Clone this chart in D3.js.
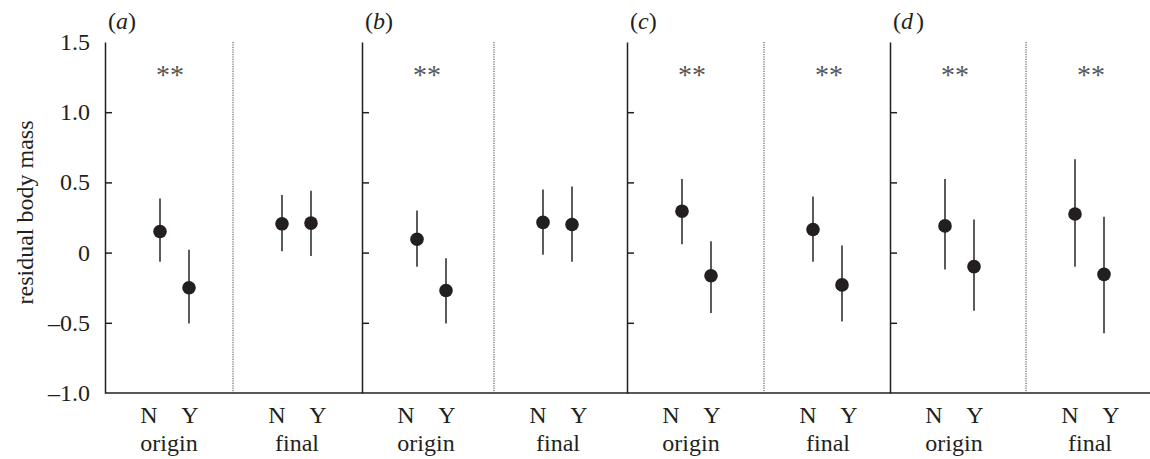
<!DOCTYPE html>
<html>
<head>
<meta charset="utf-8">
<script src="https://cdn.jsdelivr.net/npm/d3@7"></script>
<style>
  body { margin: 0; background: #fff; }
  svg text { font-family: "Liberation Serif", "Times New Roman", serif; fill: #231f20; }
</style>
</head>
<body>
<div id="chart"></div>
<script>
// chart data: each panel has 4 points, order = origin N, origin Y, final N, final Y
const panels = ['a', 'b', 'c', 'd'];
const groups = ['origin', 'final'];
const categories = ['N', 'Y'];

const meanA = [0.15, -0.25, 0.205, 0.21];
const lowA = [-0.065, -0.505, 0.01, -0.025];
const highA = [0.385, 0.02, 0.41, 0.44];

const meanB = [0.095, -0.27, 0.215, 0.2];
const lowB = [-0.1, -0.505, -0.015, -0.065];
const highB = [0.3, -0.04, 0.45, 0.47];

const meanC = [0.295, -0.165, 0.165, -0.23];
const lowC = [0.06, -0.43, -0.065, -0.49];
const highC = [0.525, 0.08, 0.4, 0.05];

const meanD = [0.19, -0.1, 0.275, -0.155];
const lowD = [-0.12, -0.415, -0.1, -0.575];
const highD = [0.525, 0.235, 0.665, 0.255];

// significance marks per panel: [origin, final]
const stars = [['**', ''], ['**', ''], ['**', '**'], ['**', '**']];

const yTicks = [1.5, 1.0, 0.5, 0, -0.5, -1.0];

const means = [meanA, meanB, meanC, meanD];
const lows = [lowA, lowB, lowC, lowD];
const highs = [highA, highB, highC, highD];

const width = 1150, height = 459;
const plotTop = 42, plotBottom = 393;
const fs = 24;

const svg = d3.select('#chart').append('svg')
  .attr('width', width)
  .attr('height', height);

const y = d3.scaleLinear().domain([-1, 1.5]).range([plotBottom, plotTop]);

// panel left edges and the dotted divider between origin/final
const panelX = d3.scaleOrdinal(panels, [105, 362, 627, 890]);
const dividerX = d3.scaleOrdinal(panels, [233, 494, 764, 1026]);
const halfStart = (p, g) => g === 'origin' ? panelX(p) : dividerX(p);

// point positions inside each half, label positions a bit wider
const pointX = {
  origin: d3.scalePoint(categories, [55, 84]),
  final: d3.scalePoint(categories, [49, 78])
};
const labelX = d3.scalePoint(categories, [44, 85]);

const fmt = d => d === 0 ? '0' : d3.format('.1f')(d).replace('-', '\u2013').replace('\u2212', '\u2013');

// y tick labels on the far left
svg.append('g')
  .selectAll('text')
  .data(yTicks)
  .join('text')
  .attr('x', 90)
  .attr('y', d => y(d))
  .attr('dy', '0.33em')
  .attr('text-anchor', 'end')
  .attr('font-size', fs)
  .text(fmt);

svg.append('text')
  .attr('transform', `translate(33,${(plotTop + plotBottom) / 2 - 5}) rotate(-90)`)
  .attr('text-anchor', 'middle')
  .attr('font-size', fs)
  .text('residual body mass');

// bottom axis line
svg.append('line')
  .attr('x1', panelX('a')).attr('x2', width)
  .attr('y1', plotBottom).attr('y2', plotBottom)
  .attr('stroke', '#231f20').attr('stroke-width', 1.6);

panels.forEach((p, i) => {
  const g = svg.append('g');

  // panel axis with inward ticks
  g.append('g')
    .attr('transform', `translate(${panelX(p)},0)`)
    .call(d3.axisRight(y).tickValues([1, 0.5, 0, -0.5]).tickSize(7).tickSizeOuter(0).tickFormat(''))
    .call(a => a.selectAll('path, line').attr('stroke', '#231f20').attr('stroke-width', 1.5));

  g.append('line')
    .attr('x1', dividerX(p)).attr('x2', dividerX(p))
    .attr('y1', plotTop).attr('y2', plotBottom)
    .attr('stroke', '#444').attr('stroke-width', 1)
    .attr('stroke-dasharray', '1.2,1.2');

  const lab = g.append('text')
    .attr('x', panelX(p) + 3)
    .attr('y', 29)
    .attr('font-size', fs);
  lab.append('tspan').text('(');
  lab.append('tspan').attr('font-style', 'italic').text(p);
  lab.append('tspan').attr('dx', p === 'd' ? 3 : 0).text(')');

  groups.forEach((grp, gi) => {
    const x0 = halfStart(p, grp);

    g.append('text')
      .attr('x', x0 + 64)
      .attr('y', 451)
      .attr('text-anchor', 'middle')
      .attr('font-size', fs)
      .text(grp);

    g.selectAll(null)
      .data(categories)
      .join('text')
      .attr('x', c => x0 + labelX(c))
      .attr('y', 423)
      .attr('text-anchor', 'middle')
      .attr('font-size', fs)
      .text(c => c);

    if (stars[i][gi]) {
      g.append('text')
        .attr('x', x0 + 65)
        .attr('y', 84)
        .attr('text-anchor', 'middle')
        .attr('font-size', 28)
        .style('fill', '#555')
        .text(stars[i][gi]);
    }

    const pts = categories.map((c, ci) => {
      const k = gi * 2 + ci;
      return { x: x0 + pointX[grp](c), m: means[i][k], lo: lows[i][k], hi: highs[i][k] };
    });

    g.selectAll(null)
      .data(pts)
      .join('line')
      .attr('x1', d => d.x).attr('x2', d => d.x)
      .attr('y1', d => y(d.lo)).attr('y2', d => y(d.hi))
      .attr('stroke', '#333').attr('stroke-width', 1.6);

    g.selectAll(null)
      .data(pts)
      .join('circle')
      .attr('cx', d => d.x)
      .attr('cy', d => y(d.m))
      .attr('r', 6.8)
      .attr('fill', '#231f20');
  });
});
</script>
</body>
</html>
